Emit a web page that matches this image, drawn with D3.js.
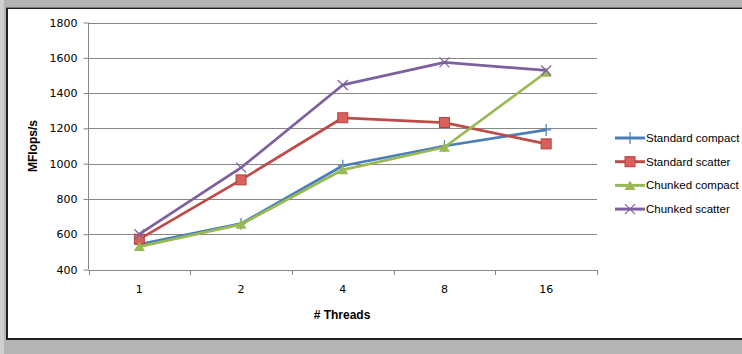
<!DOCTYPE html>
<html>
<head>
<meta charset="utf-8">
<script src="https://cdn.jsdelivr.net/npm/d3@7/dist/d3.min.js"></script>
<style>
  body { margin: 0; background: #b4b4b4; }
  svg { display: block; }
</style>
</head>
<body>
<svg id="chart" width="742" height="354"></svg>
<script>
// data
const threads = ["1", "2", "4", "8", "16"];
const standardCompact = [543, 660, 988, 1100, 1191];
const standardScatter = [572, 908, 1260, 1233, 1112];
const chunkedCompact = [530, 656, 965, 1093, 1518];
const chunkedScatter = [600, 977, 1446, 1574, 1528];
const yTicks = [400, 600, 800, 1000, 1200, 1400, 1600, 1800];

const series = [
  { name: "Standard compact", values: standardCompact, color: "#4a7ebb", marker: "plus" },
  { name: "Standard scatter", values: standardScatter, color: "#be4b48", marker: "square" },
  { name: "Chunked compact", values: chunkedCompact, color: "#98b954", marker: "triangle" },
  { name: "Chunked scatter", values: chunkedScatter, color: "#7d60a0", marker: "cross" }
];

const svg = d3.select("#chart");

// window frame
svg.append("rect").attr("x", 0).attr("y", 0).attr("width", 4).attr("height", 354).attr("fill", "#cfcfcf");
svg.append("rect").attr("x", 6).attr("y", 7).attr("width", 740).attr("height", 333).attr("fill", "#202020");
svg.append("rect").attr("x", 6).attr("y", 7).attr("width", 740).attr("height", 1).attr("fill", "#7a7a7a");
svg.append("rect").attr("x", 8).attr("y", 9).attr("width", 740).attr("height", 329).attr("fill", "#fff");

const x = d3.scaleBand().domain(threads).range([88.5, 597]);
const y = d3.scaleLinear().domain([400, 1800]).range([269.5, 22.5]);

const g = svg.append("g");

// gridlines
g.selectAll(".grid").data(yTicks).join("line")
  .attr("x1", 88.5).attr("x2", 597)
  .attr("y1", d => Math.round(y(d)) + 0.5).attr("y2", d => Math.round(y(d)) + 0.5)
  .attr("stroke", "#868686").attr("stroke-width", 1);

// y axis
const yAxis = g.append("g").attr("transform", "translate(88.5,0)")
  .call(d3.axisLeft(y).tickValues(yTicks).tickSize(5).tickPadding(6).tickFormat(d3.format("d")));
yAxis.select(".domain").attr("stroke", "#868686").attr("d", `M0,${y(1800)}V${y(400)}`);
yAxis.selectAll(".tick line").attr("stroke", "#868686");
yAxis.selectAll("text").attr("font-family", "DejaVu Sans").attr("font-size", 11).attr("fill", "#000");

// x axis
const xAxis = g.append("g").attr("transform", `translate(0,${Math.round(y(400)) + 0.5})`)
  .call(d3.axisBottom(x).tickSize(0).tickPadding(15));
xAxis.select(".domain").attr("stroke", "#868686").attr("d", "M88.5,0H597");
xAxis.selectAll("text").attr("font-family", "DejaVu Sans").attr("font-size", 11).attr("fill", "#000");
// boundary ticks between categories
g.selectAll(".xt").data(threads.concat(["end"])).join("line")
  .attr("x1", (d, i) => Math.round(88.5 + i * x.step()) + 0.5)
  .attr("x2", (d, i) => Math.round(88.5 + i * x.step()) + 0.5)
  .attr("y1", Math.round(y(400))).attr("y2", Math.round(y(400)) + 5)
  .attr("stroke", "#868686");

// axis titles
svg.append("text").attr("transform", "translate(37,146) rotate(-90)")
  .attr("text-anchor", "middle").attr("font-family", "Liberation Sans Narrow, Liberation Sans")
  .attr("font-weight", "bold").attr("font-size", 12).text("MFlops/s");
svg.append("text").attr("x", 342).attr("y", 319)
  .attr("text-anchor", "middle").attr("font-family", "Liberation Sans Narrow, Liberation Sans")
  .attr("font-weight", "bold").attr("font-size", 12).text("# Threads");

function drawMarker(sel, kind, color) {
  if (kind === "square") {
    sel.append("rect").attr("x", -5).attr("y", -5).attr("width", 10).attr("height", 10)
      .attr("fill", "#d9605b").attr("stroke", "#b5403d").attr("stroke-width", 1);
  } else if (kind === "triangle") {
    sel.append("path").attr("d", "M0,-5L5.5,4.5L-5.5,4.5Z").attr("fill", color);
  } else if (kind === "plus") {
    sel.append("path").attr("d", "M-5,0H5M0,-6V6").attr("stroke", color).attr("stroke-width", 1.2);
  } else {
    sel.append("path").attr("d", "M-5,-5L5,5M-5,5L5,-5").attr("stroke", color).attr("stroke-width", 1.2);
  }
}

const line = d3.line().x((d, i) => x(threads[i]) + x.bandwidth() / 2).y(d => y(d));

series.forEach(s => {
  g.append("path").datum(s.values).attr("d", line)
    .attr("fill", "none").attr("stroke", s.color).attr("stroke-width", 2.75).attr("stroke-linejoin", "round");
  s.values.forEach((v, i) => {
    const m = g.append("g").attr("transform", `translate(${x(threads[i]) + x.bandwidth() / 2},${y(v)})`);
    drawMarker(m, s.marker, s.color);
  });
});

// legend
const legend = svg.append("g");
series.forEach((s, i) => {
  const ly = 138 + i * 23.7;
  const lg = legend.append("g").attr("transform", `translate(0,${ly})`);
  lg.append("line").attr("x1", 615).attr("x2", 645).attr("y1", 0).attr("y2", 0)
    .attr("stroke", s.color).attr("stroke-width", 3);
  const m = lg.append("g").attr("transform", "translate(630,0)");
  drawMarker(m, s.marker, s.color);
  lg.append("text").attr("x", 646).attr("y", 4).attr("font-family", "Liberation Sans")
    .attr("font-size", 11.5).text(s.name);
});
</script>
</body>
</html>
